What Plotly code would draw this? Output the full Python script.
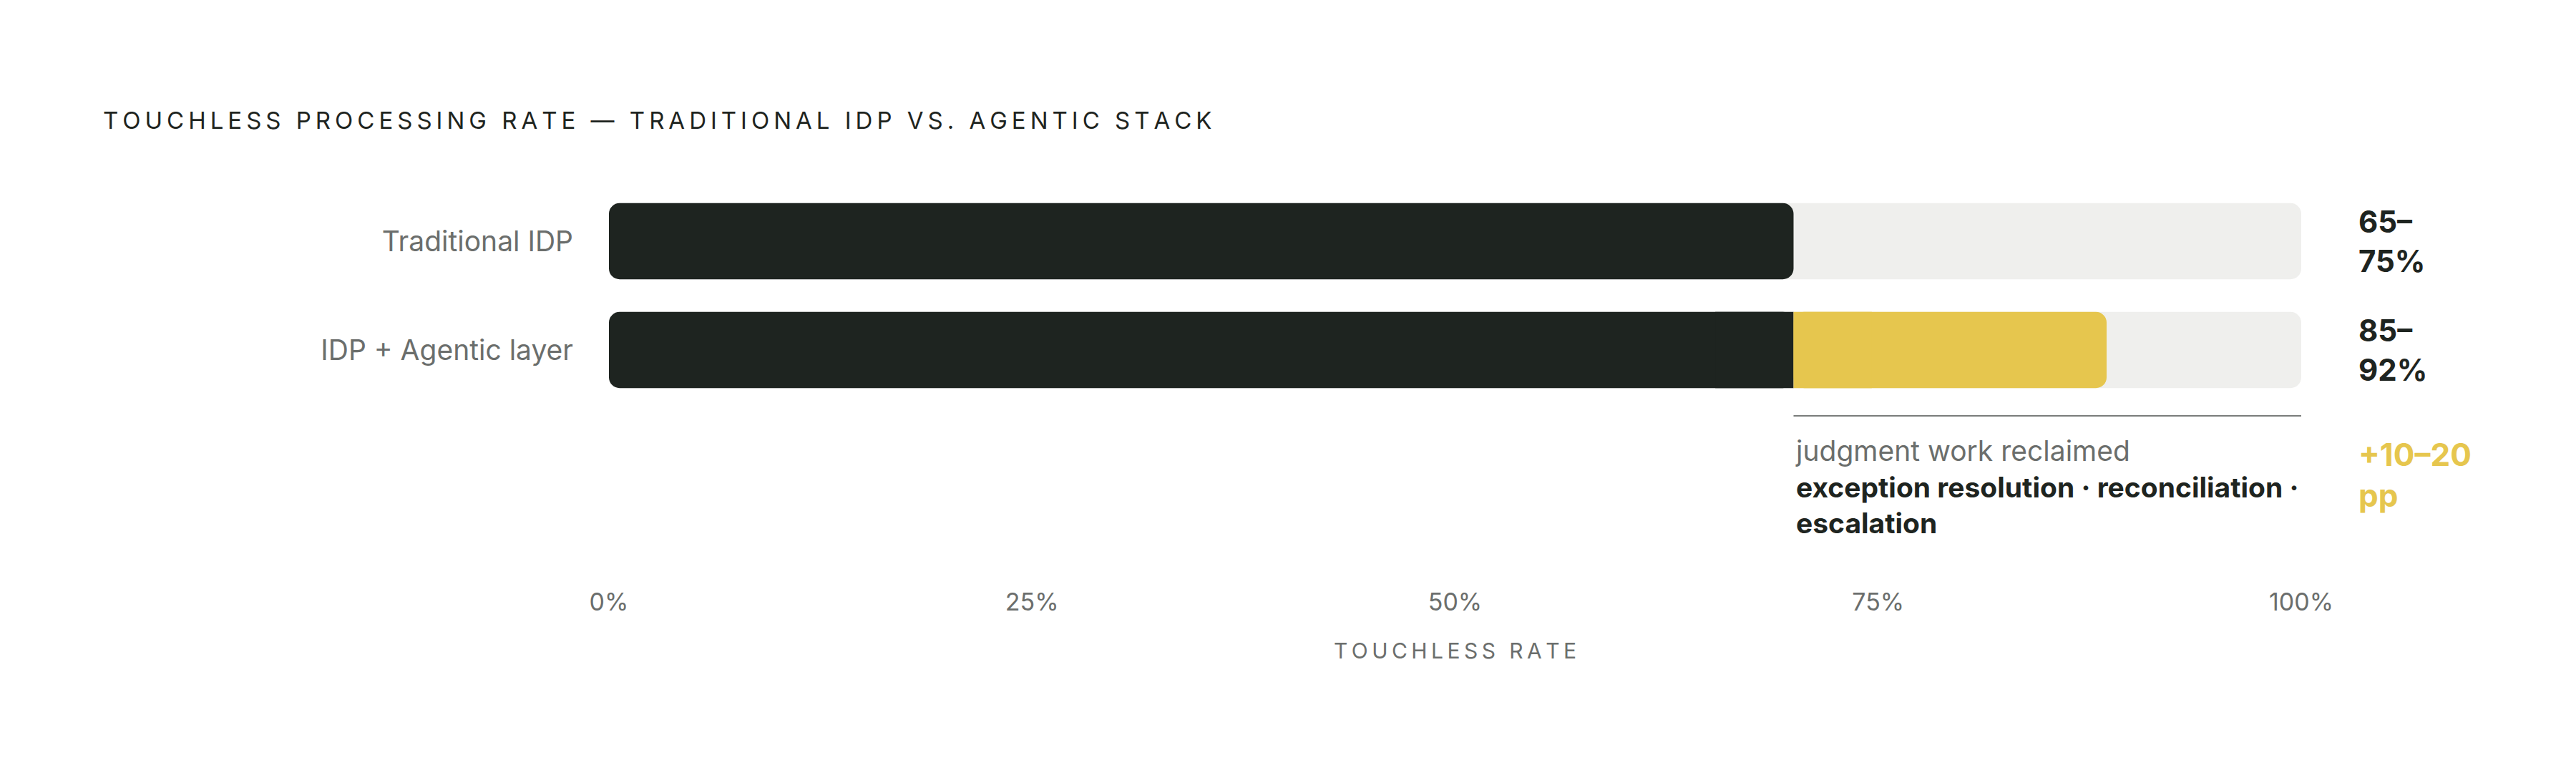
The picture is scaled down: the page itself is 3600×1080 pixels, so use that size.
import plotly.graph_objects as go

# data
categories = ["Traditional IDP", "IDP + Agentic layer"]
baseline = [70, 70]        # dark segment: touchless share (midpoint of 65–75)
agentic = [None, 88.5]     # yellow segment end (midpoint of 85–92)
track_max = [100, 100]
range_labels = ["65–<br>75%", "85–<br>92%"]
delta_label = "+10–20<br>pp"
tick_vals = [0, 25, 50, 75, 100]
tick_text = ["0%", "25%", "50%", "75%", "100%"]
title_text = "TOUCHLESS PROCESSING RATE — TRADITIONAL IDP VS. AGENTIC STACK"
axis_title = "TOUCHLESS RATE"
note_lines = ["judgment work reclaimed",
              "exception resolution · reconciliation ·",
              "escalation"]

DARK = "#1e2420"
TRACK = "#efefed"
YELLOW = "#e6c64e"
GREY = "#6b6e6c"
FONT = "Inter"
RADIUS = 15


def spaced(s):
    # poor man's letter-spacing
    return "\u2009".join(s)


fig = go.Figure()


def bar(base, length, color, radius=RADIUS):
    # bars with an explicit base get both ends rounded; radius-0 pieces
    # square off the ends where two segments meet
    fig.add_trace(go.Bar(y=categories, x=length, base=base, orientation="h",
                         marker=dict(color=color, line_width=0, cornerradius=radius,
                                     opacity=1),
                         width=0.7, hoverinfo="skip", showlegend=False))


gain = [a - b if a is not None else None for a, b in zip(agentic, baseline)]
patch = [g / 4 if g is not None else None for g in gain]

# background track
bar([0] * len(track_max), track_max, TRACK)
# dark baseline, squared at the join with the yellow
bar([0] * len(baseline), baseline, DARK)
bar([b - p if p else None for b, p in zip(baseline, patch)], patch, DARK, 0)
# yellow gain, squared at the join with the dark
bar(baseline, gain, YELLOW)
bar([b if p else None for b, p in zip(baseline, patch)], patch, YELLOW, 0)

# value labels on the right
for cat, lab in zip(categories, range_labels):
    fig.add_annotation(x=100, y=cat, xref="x", yref="y", text="<b>" + lab + "</b>",
                       showarrow=False, xanchor="left", yanchor="middle", align="left",
                       xshift=78, font=dict(family=FONT, size=42, color=DARK))

# bracket line + note under the yellow gain
fig.add_shape(type="line", xref="x", yref="paper", x0=baseline[1], x1=track_max[1],
              y0=0.4255, y1=0.4255, line=dict(color="#7a7d7b", width=2))
note = ('<span style="color:%s">%s</span><br><b>%s</b><br><b>%s</b>'
        % (GREY, note_lines[0], note_lines[1], note_lines[2]))
fig.add_annotation(x=baseline[1], y=0.384, xref="x", yref="paper", text=note,
                   showarrow=False, xanchor="left", yanchor="top", align="left",
                   font=dict(family=FONT, size=39, color=DARK))
fig.add_annotation(x=100, y=0.384, xref="x", yref="paper", text="<b>" + delta_label + "</b>",
                   showarrow=False, xanchor="left", yanchor="top", align="left",
                   xshift=78, yshift=-2, font=dict(family=FONT, size=44, color=YELLOW))

fig.update_layout(
    width=3600, height=1080,
    barmode="overlay",
    plot_bgcolor="white", paper_bgcolor="white",
    margin=dict(l=843, r=392, t=253, b=270),
    title=dict(text=spaced(title_text), x=136 / 3600, xanchor="left",
               y=1 - 160 / 1080, yanchor="middle",
               font=dict(family=FONT, size=33, color=DARK)),
    font=dict(family=FONT),
)
fig.update_xaxes(range=[0, 100], tickvals=tick_vals, ticktext=tick_text,
                 showgrid=False, zeroline=False, showline=False, ticks="",
                 tickfont=dict(family=FONT, size=34, color=GREY),
                 title=dict(text=spaced(axis_title), standoff=38,
                            font=dict(family=FONT, size=30, color=GREY)))
fig.update_yaxes(type="category", categoryorder="array", categoryarray=categories,
                 range=[3.164, -0.5], showgrid=False, zeroline=False, showline=False,
                 ticks="", ticklabelstandoff=49,
                 tickfont=dict(family=FONT, size=39, color=GREY))

fig.write_html("out.html")
